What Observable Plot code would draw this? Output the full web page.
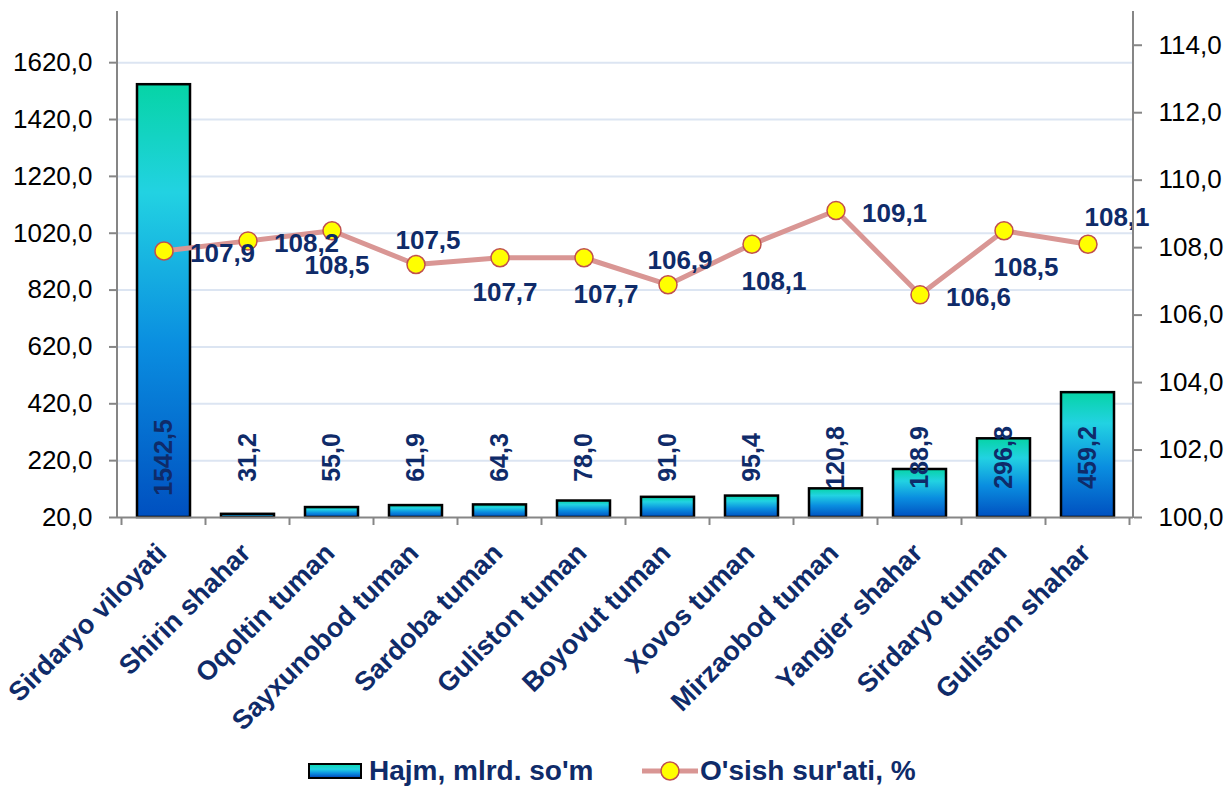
<!DOCTYPE html>
<html>
<head>
<meta charset="utf-8">
<script src="https://cdn.jsdelivr.net/npm/d3@7"></script>
<script src="https://cdn.jsdelivr.net/npm/@observablehq/plot@0.6"></script>
<style>
  html, body { margin: 0; padding: 0; background: #fff; }
  body { width: 1228px; height: 787px; position: relative; overflow: hidden; font-family: "Liberation Sans", Arial, sans-serif; }
  #legend { position: relative; width: 1228px; height: 32px; }
  #legend .item { position: absolute; top: 0; height: 32px; display: flex; align-items: center; }
  #legend .txt { font-size: 28px; font-weight: bold; color: #0F2B69; white-space: nowrap; line-height: 32px; }
</style>
</head>
<body>
<div id="chart"></div>
<div id="legend">
  <div class="item" style="left:308px">
    <div style="width:50px;height:12px;border:2px solid #000;background:linear-gradient(#0ED6B6,#22D2E2 35%,#0A8EE0 70%,#0050C0);"></div>
    <span class="txt" style="margin-left:7px">Hajm, mlrd. so'm</span>
  </div>
  <div class="item" style="left:642px">
    <svg width="56" height="32" style="display:block">
      <line x1="0" x2="56" y1="16" y2="16" stroke="#D99694" stroke-width="5"/>
      <circle cx="28" cy="16" r="9" fill="#FFFF00" stroke="#C0504D" stroke-width="1.5"/>
    </svg>
    <span class="txt" style="margin-left:2px">O'sish sur'ati, %</span>
  </div>
</div>
<script>
// ---- data ----
const regions = ["Sirdaryo viloyati", "Shirin shahar", "Oqoltin tuman", "Sayxunobod tuman", "Sardoba tuman", "Guliston tuman", "Boyovut tuman", "Xovos tuman", "Mirzaobod tuman", "Yangier shahar", "Sirdaryo tuman", "Guliston shahar"];
const volume = [1542.5, 31.2, 55.0, 61.9, 64.3, 78.0, 91.0, 95.4, 120.8, 188.9, 296.8, 459.2];
const growth = [107.9, 108.2, 108.5, 107.5, 107.7, 107.7, 106.9, 108.1, 109.1, 106.6, 108.5, 108.1];
const growthLabelSide = ["right", "right", "below", "above", "below", "belowRight", "above", "belowRight", "right", "right", "belowRight", "aboveRight"];
const leftTicks = [20, 220, 420, 620, 820, 1020, 1220, 1420, 1620];
const rightTicks = [100, 102, 104, 106, 108, 110, 112, 114];
const leftDomain = [20, 1800];
const rightDomain = [100, 115];

// ---- helpers ----
const navy = "#0F2B69";
const fmt = v => (Math.round(v * 10) / 10).toFixed(1).replace(".", ",");
const k = (leftDomain[1] - leftDomain[0]) / (rightDomain[1] - rightDomain[0]);
const toLeft = v => leftDomain[0] + (v - rightDomain[0]) * k;
const fromLeft = v => rightDomain[0] + (v - leftDomain[0]) / k;

const data = regions.map((r, i) => ({region: r, volume: volume[i], growth: growth[i], side: growthLabelSide[i]}));

const sideStyle = {
  right:      {textAnchor: "start",  dx: 26, dy: 3},
  below:      {textAnchor: "middle", dx: 5,  dy: 35},
  belowRight: {textAnchor: "middle", dx: 22, dy: 37},
  above:      {textAnchor: "middle", dx: 12, dy: -24},
  aboveRight: {textAnchor: "middle", dx: 29, dy: -27}
};
const growthLabelMarks = Object.entries(sideStyle).map(([side, st]) =>
  Plot.text(data.filter(d => d.side === side), {
    x: "region", y: d => toLeft(d.growth), text: d => fmt(d.growth),
    textAnchor: st.textAnchor, dx: st.dx, dy: st.dy,
    fontSize: 26, fontWeight: "bold", fill: navy
  })
);

const W = 1228, H = 755, plotBottom = 517;
const plot = Plot.plot({
  width: W, height: H,
  marginLeft: 117, marginRight: 95, marginTop: 11, marginBottom: H - plotBottom,
  style: {fontFamily: "'Liberation Sans', Arial, sans-serif", background: "#fff", overflow: "visible"},
  x: {domain: regions, paddingInner: 0.374, paddingOuter: 0.187, label: null},
  y: {domain: leftDomain, label: null},
  marks: [
    Plot.gridY(leftTicks.filter(t => t > leftDomain[0]), {stroke: "#DCE5F2", strokeOpacity: 1, strokeWidth: 2}),
    Plot.barY(data, {x: "region", y1: leftDomain[0], y2: "volume", fill: "url(#barGrad)", stroke: "#000", strokeWidth: 2.5}),
    Plot.text(data, {x: "region", y: leftDomain[0], text: d => fmt(d.volume), rotate: -90, dy: -60,
      fontSize: 25, fontWeight: "bold", fill: navy}),
    Plot.line(data, {x: "region", y: d => toLeft(d.growth), stroke: "#D99694", strokeWidth: 5}),
    Plot.dot(data, {x: "region", y: d => toLeft(d.growth), r: 9, fill: "#FFFF00", stroke: "#C0504D", strokeWidth: 1.5}),
    ...growthLabelMarks,
    Plot.axisY(leftTicks, {anchor: "left", tickFormat: fmt, tickSize: 8, tickPadding: 17, fontSize: 26,
      stroke: "#868686", strokeWidth: 2, fill: "#000", label: null}),
    Plot.axisY(rightTicks.map(toLeft), {anchor: "right", tickFormat: v => fmt(fromLeft(v)), tickSize: 8, tickPadding: 17, fontSize: 26,
      stroke: "#868686", strokeWidth: 2, fill: "#000", label: null}),
    Plot.axisX({tickRotate: -45, tickSize: 0, tickPadding: 31, dx: -2, fontSize: 27, fontWeight: "bold", fill: navy, label: null}),
    Plot.ruleY([leftDomain[0]], {stroke: "#868686", strokeWidth: 2})
  ]
});

document.getElementById("chart").appendChild(plot);

// gradient + axis lines drawn with the plot's own scales
const svg = d3.select(plot);
const defs = svg.insert("defs", ":first-child");
const g = defs.append("linearGradient").attr("id", "barGrad").attr("x1", 0).attr("y1", 0).attr("x2", 0).attr("y2", 1);
[[0, "#06D4A6"], [0.25, "#22D2E2"], [0.6, "#0A8EE0"], [1, "#0050C0"]].forEach(([o, c]) =>
  g.append("stop").attr("offset", o).attr("stop-color", c));

const xs = plot.scale("x"), ys = plot.scale("y");
const [xa, xb] = xs.range;
const yBottom = ys.apply(leftDomain[0]), yTop = ys.apply(leftDomain[1]);
const axisG = svg.append("g").attr("stroke", "#868686").attr("stroke-width", 2);
axisG.append("line").attr("x1", xa).attr("x2", xa).attr("y1", yTop).attr("y2", yBottom + 1);
axisG.append("line").attr("x1", xb).attr("x2", xb).attr("y1", yTop).attr("y2", yBottom + 1);
const edges = regions.map(r => xs.apply(r) + xs.bandwidth / 2 - xs.step / 2);
edges.push(edges[edges.length - 1] + xs.step);
edges.forEach(e => axisG.append("line").attr("x1", e).attr("x2", e).attr("y1", yBottom).attr("y2", yBottom + 8));
</script>
</body>
</html>
